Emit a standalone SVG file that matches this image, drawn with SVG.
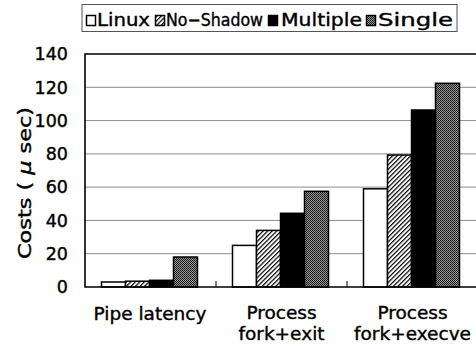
<svg xmlns="http://www.w3.org/2000/svg" width="476" height="349" viewBox="0 0 476 349">
  <style>
    .lbl { font-family: "DejaVu Sans", "Liberation Sans", sans-serif; fill: #000; stroke: #000; stroke-width: 0.4; }
    .ytick { font-size: 17.5px; text-anchor: end; }
    .cat { font-size: 18.5px; text-anchor: middle; }
    .leg { font-size: 17.5px; }
    .grid { stroke: #8a8a8a; stroke-width: 1; }
    .frame { stroke: #000; stroke-width: 1.6; fill: none; }
    .bar { stroke: #000; stroke-width: 1.5; }
    .linux { fill: #fff; }
    .noshadow { fill: url(#hatch); }
    .multiple { fill: #000; }
    .single { fill: url(#dither); }
  </style>
  <defs>
    <pattern id="hatch" width="3.2" height="3.2" patternUnits="userSpaceOnUse" patternTransform="rotate(45)">
      <rect width="3.2" height="3.2" fill="#fff"/>
      <line x1="0.6" y1="0" x2="0.6" y2="3.2" stroke="#000" stroke-width="1.2"/>
    </pattern>
    <pattern id="dither" width="2" height="2" patternUnits="userSpaceOnUse">
      <rect width="2" height="2" fill="#9a9a9a"/>
      <rect x="0" y="0" width="1" height="1" fill="#111"/>
      <rect x="1" y="1" width="1" height="1" fill="#222"/>
    </pattern>
  </defs>

  <rect width="476" height="349" fill="#fff"/>

  <!-- legend -->
  <g id="legend">
    <rect x="82" y="4.5" width="375" height="27" fill="#fff" stroke="#555" stroke-width="1"/>
    <rect class="bar linux" x="86.5" y="15.5" width="9" height="10" stroke-width="1.2"/>
    <text class="lbl leg" x="97" y="26" textLength="53" lengthAdjust="spacingAndGlyphs">Linux</text>
    <rect class="bar noshadow" x="155.5" y="15.5" width="9" height="10" stroke-width="1.2"/>
    <text class="lbl leg" x="166" y="26" textLength="97" lengthAdjust="spacingAndGlyphs">No−Shadow</text>
    <rect class="bar multiple" x="268.5" y="15.5" width="9" height="10" stroke-width="1.2"/>
    <text class="lbl leg" x="281" y="26" textLength="81" lengthAdjust="spacingAndGlyphs">Multiple</text>
    <rect class="bar single" x="366.5" y="15.5" width="9" height="10" stroke-width="1.2"/>
    <text class="lbl leg" x="378" y="26" textLength="75" lengthAdjust="spacingAndGlyphs">Single</text>
  </g>

  <!-- grid lines -->
  <g id="grid">
    <line class="grid" x1="85" y1="253.7" x2="476" y2="253.7"/>
    <line class="grid" x1="85" y1="220.4" x2="476" y2="220.4"/>
    <line class="grid" x1="85" y1="187.1" x2="476" y2="187.1"/>
    <line class="grid" x1="85" y1="153.9" x2="476" y2="153.9"/>
    <line class="grid" x1="85" y1="120.6" x2="476" y2="120.6"/>
    <line class="grid" x1="85" y1="87.3" x2="476" y2="87.3"/>
  </g>

  <!-- y axis labels -->
  <g id="y-axis">
    <text class="lbl ytick" x="68" y="60.3">140</text>
    <text class="lbl ytick" x="68" y="93.6">120</text>
    <text class="lbl ytick" x="68" y="126.9">100</text>
    <text class="lbl ytick" x="68" y="160.2">80</text>
    <text class="lbl ytick" x="68" y="193.4">60</text>
    <text class="lbl ytick" x="68" y="226.7">40</text>
    <text class="lbl ytick" x="68" y="260">20</text>
    <text class="lbl ytick" x="68" y="293.3">0</text>
    <text class="lbl" font-size="18" text-anchor="middle" textLength="152" lengthAdjust="spacingAndGlyphs" transform="translate(31,183) rotate(-90)">Costs ( <tspan font-style="italic">μ</tspan> sec)</text>
  </g>

  <!-- bars: Pipe latency -->
  <g id="pipe-latency">
    <rect class="bar linux" x="101.5" y="282" width="24" height="5"/>
    <rect class="bar noshadow" x="125.5" y="281.2" width="24" height="5.8"/>
    <rect class="bar multiple" x="149.5" y="280.3" width="24" height="6.7"/>
    <rect class="bar single" x="173.5" y="257" width="24" height="30"/>
  </g>
  <!-- bars: Process fork+exit -->
  <g id="fork-exit">
    <rect class="bar linux" x="232.5" y="245.4" width="24" height="41.6"/>
    <rect class="bar noshadow" x="256.5" y="230.4" width="24" height="56.6"/>
    <rect class="bar multiple" x="280.5" y="213.3" width="24" height="73.7"/>
    <rect class="bar single" x="304.5" y="191.3" width="24" height="95.7"/>
  </g>
  <!-- bars: Process fork+execve -->
  <g id="fork-execve">
    <rect class="bar linux" x="363.5" y="188.8" width="24" height="98.2"/>
    <rect class="bar noshadow" x="387.5" y="155" width="24" height="132"/>
    <rect class="bar multiple" x="411.5" y="110" width="24" height="177"/>
    <rect class="bar single" x="435.5" y="83.3" width="24" height="203.7"/>
  </g>

  <!-- plot frame and axis ticks -->
  <g id="axes">
    <path class="frame" d="M476,54 H85 V287 H476"/>
    <line x1="216" y1="281" x2="216" y2="287" stroke="#000" stroke-width="1"/>
    <line x1="347" y1="281" x2="347" y2="287" stroke="#000" stroke-width="1"/>
  </g>

  <!-- category labels -->
  <g id="categories">
    <text class="lbl cat" x="150" y="320">Pipe latency</text>
    <text class="lbl cat" x="281.5" y="319">Process</text>
    <text class="lbl cat" x="281.5" y="340">fork+exit</text>
    <text class="lbl cat" x="412.5" y="319">Process</text>
    <text class="lbl cat" x="412.5" y="340">fork+execve</text>
  </g>
</svg>
